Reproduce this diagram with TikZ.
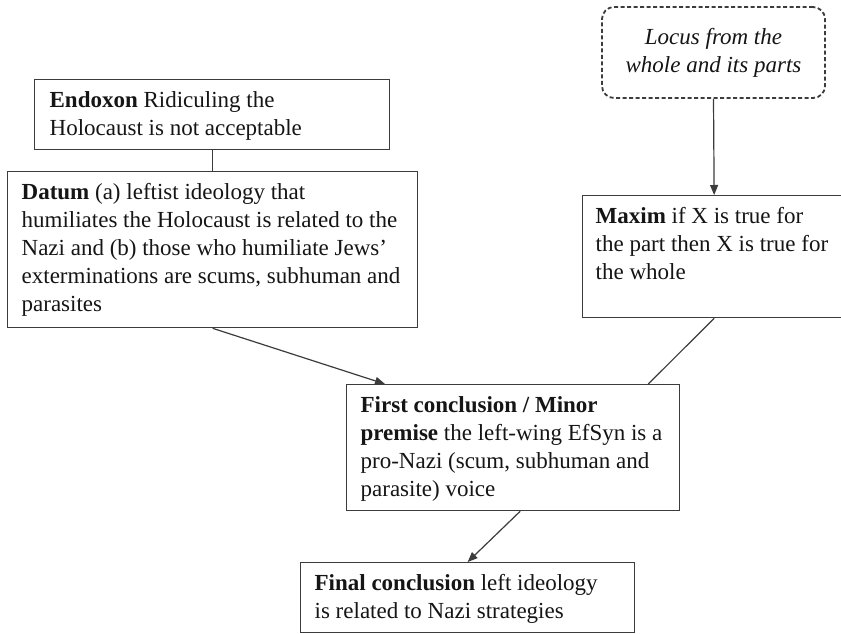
\documentclass[tikz,border=0pt]{standalone}
\usepackage{fontspec}
\setmainfont{Liberation Serif}
\usetikzlibrary{arrows.meta,calc}
\definecolor{linec}{HTML}{3C3C3C}
\definecolor{txtc}{HTML}{151515}
\newcommand{\boxfont}{\fontsize{23}{28}\selectfont}
\newcommand{\boxpar}[3]{\parbox[t][#2][t]{#1}{\strut#3}}
\begin{document}
\begin{tikzpicture}[x=1pt,y=-1pt,
  box/.style={draw=linec,line width=1.3pt,anchor=north west,inner xsep=#1,inner ysep=8.5pt,text=txtc,font=\boxfont},
  box/.default=14pt,
  arr/.style={draw=linec,line width=1.2pt,-{Triangle[length=10pt,width=8pt]}},
  ln/.style={draw=linec,line width=1.2pt}]
\useasboundingbox[fill=white] (0,0) rectangle (841,633);

\node[draw=linec,line width=1.8pt,dash pattern=on 4pt off 2.5pt,rounded corners=12pt,
  minimum width=223pt,minimum height=91pt,align=center,font=\boxfont\itshape,text=txtc,inner sep=0pt]
  (locus) at (713.5,52.5) {Locus from the\\whole and its parts};

\node[box=15pt] (endoxon) at (34,79) {\boxpar{325pt}{53pt}{\mbox{\textbf{Endoxon} Ridiculing the}\\\mbox{Holocaust is not acceptable}}};

\node[box=14pt] (datum) at (7,171) {\boxpar{382pt}{139pt}{\mbox{\textbf{Datum} (a) leftist ideology that}\\\mbox{humiliates the Holocaust is related to the}\\\mbox{Nazi and (b) those who humiliate Jews’}\\\mbox{exterminations are scums, subhuman and}\\\mbox{parasites}}};

\node[box=13pt] (maxim) at (582,195) {\boxpar{237pt}{105pt}{\mbox{\textbf{Maxim} if X is true for}\\\mbox{the part then X is true for}\\\mbox{the whole}}};

\node[box=14pt] (first) at (346,384) {\boxpar{305pt}{109pt}{\mbox{\textbf{First conclusion / Minor}}\\\mbox{\textbf{premise} the left-wing EfSyn is a}\\\mbox{pro-Nazi (scum, subhuman and}\\\mbox{parasite) voice}}};

\node[box=14pt] (final) at (300,562) {\boxpar{306pt}{53pt}{\mbox{\textbf{Final conclusion} left ideology}\\\mbox{is related to Nazi strategies}}};

\coordinate (fcin) at ($(first.north west)+(39,0)$);
\coordinate (fcmx) at ($(first.north east)+(-32,0)$);
\coordinate (fcout) at ($(first.south)+(7,0)$);

\draw[arr] (locus.south) -- (maxim.north);
\draw[ln] (endoxon.south) -- (endoxon.south |- datum.north);
\draw[arr] (datum.south) -- (fcin);
\draw[ln] (maxim.south) -- (fcmx);
\draw[arr] (fcout) -- (final.north);
\end{tikzpicture}
\end{document}
